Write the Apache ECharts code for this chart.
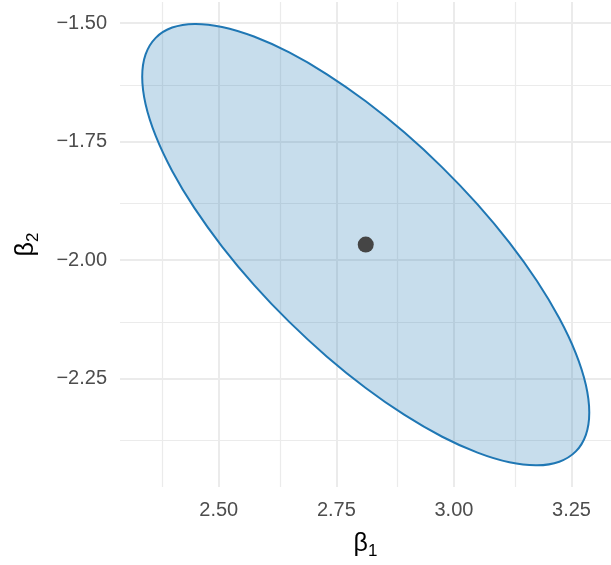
<!DOCTYPE html>
<html>
<head>
<meta charset="utf-8">
<script src="https://cdn.jsdelivr.net/npm/echarts@6/dist/echarts.min.js"></script>
<style>
html,body{margin:0;padding:0;background:#fff;}
#chart{width:611px;height:565px;}
</style>
</head>
<body>
<div id="chart"></div>
<script>
// Confidence-ellipse boundary (beta1, beta2), going round the ellipse
const ellipseB1 = [3.2878, 3.2806, 3.2592, 3.2241, 3.1766, 3.1180, 3.0502, 2.9751, 2.8950,
  2.8125, 2.7300, 2.6499, 2.5748, 2.5070, 2.4484, 2.4009, 2.3659, 2.3444,
  2.3372, 2.3444, 2.3659, 2.4009, 2.4484, 2.5070, 2.5748, 2.6499, 2.7300,
  2.8125, 2.8950, 2.9751, 3.0502, 3.1180, 3.1766, 3.2241, 3.2592, 3.2806];
const ellipseB2 = [-2.3212, -2.2633, -2.1964, -2.1226, -2.0440, -1.9631, -1.8823, -1.8041, -1.7308,
  -1.6647, -1.6078, -1.5618, -1.5282, -1.5079, -1.5015, -1.5092, -1.5309, -1.5659,
  -1.6130, -1.6709, -1.7378, -1.8116, -1.8902, -1.9711, -2.0519, -2.1301, -2.2034,
  -2.2695, -2.3264, -2.3724, -2.4060, -2.4264, -2.4327, -2.4250, -2.4033, -2.3683];
// Point estimate
const estimate = [2.8125, -1.9671];

// Axis ticks
const xMajor = [2.50, 2.75, 3.00, 3.25];
const xMinor = [2.375, 2.625, 2.875, 3.125];
const yMajor = [-1.50, -1.75, -2.00, -2.25];
const yMinor = [-1.625, -1.875, -2.125, -2.375];

const chart = echarts.init(document.getElementById('chart'), null, {renderer: 'canvas'});

const gridLines = [];
xMajor.forEach(v => gridLines.push({xAxis: v, lineStyle: {width: 2}}));
xMinor.forEach(v => gridLines.push({xAxis: v, lineStyle: {width: 1.2}}));
yMajor.forEach(v => gridLines.push({yAxis: v, lineStyle: {width: 2}}));
yMinor.forEach(v => gridLines.push({yAxis: v, lineStyle: {width: 1.2}}));

const FONT = '"Liberation Sans", Arial, sans-serif';
const titleRich = {
  b: {fontSize: 25, fontFamily: FONT, color: '#000'},
  s: {fontSize: 17, fontFamily: FONT, color: '#000', verticalAlign: 'top', padding: [14, 0, 0, 0]}
};

chart.setOption({
  animation: false,
  backgroundColor: '#ffffff',
  grid: {left: 120, top: 2, width: 497, height: 487, containLabel: false},
  xAxis: {
    type: 'value', min: 2.29, max: 3.334,
    axisLine: {show: false}, axisTick: {show: false}, splitLine: {show: false},
    axisLabel: {customValues: xMajor, formatter: v => v.toFixed(2), color: '#4d4d4d',
      fontSize: 20, fontFamily: FONT, margin: 13},
    name: '{b|β}{s|1}', nameLocation: 'middle', nameGap: 42,
    nameTextStyle: {color: '#000', fontFamily: FONT, rich: titleRich}
  },
  yAxis: {
    type: 'value', min: -2.4784, max: -1.4553,
    axisLine: {show: false}, axisTick: {show: false}, splitLine: {show: false},
    axisLabel: {customValues: yMajor, formatter: v => v.toFixed(2).replace('-', '\u2212'), color: '#4d4d4d',
      fontSize: 20, fontFamily: FONT, margin: 13},
    name: '{b|β}{s|2}', nameLocation: 'middle', nameGap: 78, nameRotate: 90,
    nameTextStyle: {color: '#000', fontFamily: FONT, rich: titleRich}
  },
  series: [
    {
      type: 'line', data: [], z: 1, silent: true,
      markLine: {z: 1, silent: true, symbol: ['none', 'none'], label: {show: false},
        lineStyle: {color: '#ebebeb', type: 'solid'}, data: gridLines, animation: false}
    },
    {
      type: 'custom', z: 3, silent: true,
      data: [[ellipseB1[0], ellipseB2[0]]],
      renderItem: function (params, api) {
        const pts = ellipseB1.map((x, i) => api.coord([x, ellipseB2[i]]));
        return {type: 'polygon', shape: {points: pts, smooth: 0.3},
          style: {fill: 'rgba(31,119,180,0.25)', stroke: '#1f77b4', lineWidth: 2}};
      }
    },
    {
      type: 'scatter', z: 4, silent: true, symbolSize: 16,
      itemStyle: {color: '#454545', opacity: 1},
      data: [estimate]
    }
  ]
});
</script>
</body>
</html>
